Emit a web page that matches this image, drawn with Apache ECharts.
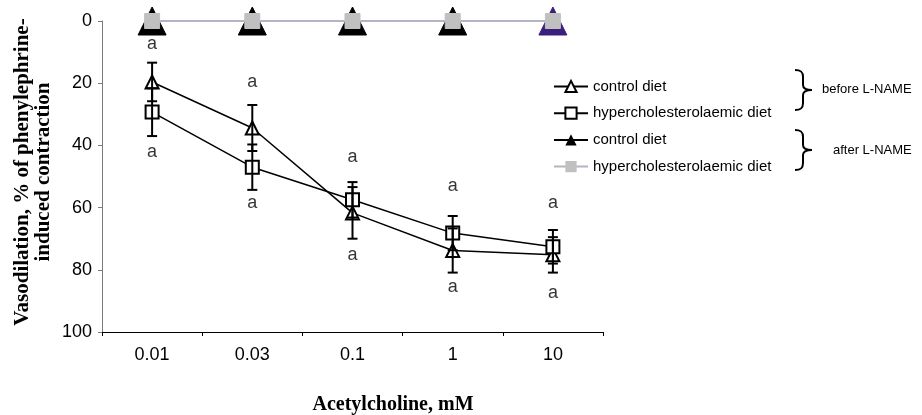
<!DOCTYPE html>
<html>
<head>
<meta charset="utf-8">
<script src="https://cdn.jsdelivr.net/npm/echarts@6/dist/echarts.min.js"></script>
<style>
html,body{margin:0;padding:0;background:#fff;}
#chart{width:922px;height:415px;}
</style>
</head>
<body>
<div id="chart"></div>
<script>
// ---- data ----
var categories = ['0.01', '0.03', '0.1', '1', '10'];
var ctrlBefore = [19.6, 34.4, 61.7, 73.8, 75.2];
var ctrlBeforeErr = [6.2, 7.4, 8.3, 7.1, 5.7];
var hyperBefore = [29.3, 47.0, 57.5, 68.2, 72.6];
var hyperBeforeErr = [7.7, 7.3, 5.7, 5.5, 5.4];
var ctrlAfter = [0, 0, 0, 0, 0];
var hyperAfter = [0, 0, 0, 0, 0];
var letterAbove = [7.4, 19.6, 43.7, 53.0, 58.5];
var letterBelow = [42.1, 58.5, 75.2, 85.5, 87.5];
var letterText = ['a', 'a', 'a', 'a', 'a'];
var yTicks = [0, 20, 40, 60, 80, 100];
var legendNames = ['control diet', 'hypercholesterolaemic diet', 'control diet', 'hypercholesterolaemic diet'];
var seriesKeys = ['ctrlBefore', 'hyperBefore', 'ctrlAfter', 'hyperAfter'];

var chart = echarts.init(document.getElementById('chart'));

function errData(mean, err) {
  return mean.map(function (m, i) { return [i, m - err[i], m + err[i]]; });
}
function errSeries(mean, err) {
  return {
    type: 'custom',
    z: 5,
    silent: true,
    data: errData(mean, err),
    renderItem: function (params, api) {
      var x = api.value(0);
      var lo = api.coord([x, api.value(1)]);
      var hi = api.coord([x, api.value(2)]);
      var hw = 5;
      var st = { stroke: '#000', lineWidth: 2 };
      return {
        type: 'group',
        children: [
          { type: 'line', shape: { x1: lo[0], y1: lo[1], x2: hi[0], y2: hi[1] }, style: st },
          { type: 'line', shape: { x1: lo[0] - hw, y1: lo[1], x2: lo[0] + hw, y2: lo[1] }, style: st },
          { type: 'line', shape: { x1: hi[0] - hw, y1: hi[1], x2: hi[0] + hw, y2: hi[1] }, style: st }
        ]
      };
    }
  };
}
function letterSeries(vals) {
  return {
    type: 'scatter',
    symbol: 'circle',
    symbolSize: 1,
    silent: true,
    z: 6,
    itemStyle: { color: 'transparent' },
    data: vals.map(function (v, i) { return [i, v]; }),
    label: {
      show: true, position: 'inside',
      formatter: function (p) { return letterText[p.dataIndex]; },
      color: '#000', fontSize: 18, fontFamily: 'Liberation Sans, Arial, sans-serif'
    }
  };
}
function brace(x0, top, bottom) {
  var mid = (top + bottom) / 2;
  var xs = x0 + 8, xt = x0 + 17;
  var st = { stroke: '#000', lineWidth: 2, fill: null };
  return [
    { type: 'bezierCurve', shape: { x1: x0, y1: top, cpx1: x0 + 6, cpy1: top, cpx2: xs, cpy2: top + 2, x2: xs, y2: top + 7 }, style: st },
    { type: 'line', shape: { x1: xs, y1: top + 7, x2: xs, y2: mid - 5 }, style: st },
    { type: 'bezierCurve', shape: { x1: xs, y1: mid - 5, cpx1: xs, cpy1: mid - 1, cpx2: xs + 3, cpy2: mid, x2: xt, y2: mid }, style: st },
    { type: 'bezierCurve', shape: { x1: xt, y1: mid, cpx1: xs + 3, cpy1: mid, cpx2: xs, cpy2: mid + 1, x2: xs, y2: mid + 5 }, style: st },
    { type: 'line', shape: { x1: xs, y1: mid + 5, x2: xs, y2: bottom - 7 }, style: st },
    { type: 'bezierCurve', shape: { x1: xs, y1: bottom - 7, cpx1: xs, cpy1: bottom - 2, cpx2: x0 + 6, cpy2: bottom, x2: x0, y2: bottom }, style: st }
  ];
}

var ctrlAfterData = ctrlAfter.map(function (v, i) {
  if (i === ctrlAfter.length - 1) return { value: v, itemStyle: { color: '#3b1f7c', borderColor: '#3b1f7c' } };
  return v;
});

var graphics = [
  {
    type: 'text', x: 33, y: 172, rotation: Math.PI / 2,
    style: {
      text: 'Vasodilation, % of phenylephrine-\ninduced contraction',
      font: 'bold 21px "Liberation Serif", "Times New Roman", serif',
      fill: '#000', textAlign: 'center', textVerticalAlign: 'middle', lineHeight: 21
    }
  },
  {
    type: 'text', x: 393, y: 405,
    style: {
      text: 'Acetylcholine, mM',
      font: 'bold 20px "Liberation Serif", "Times New Roman", serif',
      fill: '#000', textAlign: 'center', textVerticalAlign: 'middle'
    }
  },
  {
    type: 'text', x: 822, y: 89,
    style: { text: 'before L-NAME', font: '13px "Liberation Sans", Arial, sans-serif', fill: '#000', textVerticalAlign: 'middle' }
  },
  {
    type: 'text', x: 833, y: 150,
    style: { text: 'after L-NAME', font: '13px "Liberation Sans", Arial, sans-serif', fill: '#000', textVerticalAlign: 'middle' }
  }
].concat(brace(795, 70, 110)).concat(brace(795, 130, 170));

var option = {
  backgroundColor: '#fff',
  animation: false,
  grid: { left: 102, top: 21, width: 501, height: 311, containLabel: false },
  legend: {
    data: seriesKeys,
    orient: 'vertical',
    left: 553, top: 79, padding: 0,
    itemWidth: 34, itemHeight: 14, itemGap: 11.7,
    formatter: function (n) { return legendNames[seriesKeys.indexOf(n)]; },
    textStyle: { fontSize: 15, color: '#000', fontFamily: 'Liberation Sans, Arial, sans-serif' },
    selectedMode: false
  },
  xAxis: [{
    type: 'category',
    data: categories,
    position: 'bottom',
    boundaryGap: true,
    axisLine: { onZero: false, lineStyle: { color: '#000', width: 1 } },
    axisTick: { alignWithLabel: true, length: 4, lineStyle: { color: '#000' } },
    axisLabel: { color: '#000', fontSize: 18, margin: 14, fontFamily: 'Liberation Sans, Arial, sans-serif' },
    splitLine: { show: false }
  }, {
    type: 'category',
    data: categories,
    position: 'bottom',
    boundaryGap: true,
    axisLine: { show: false, onZero: false },
    axisTick: { show: true, length: 4, lineStyle: { color: '#000' } },
    axisLabel: { show: false },
    splitLine: { show: false }
  }],
  yAxis: {
    type: 'value',
    inverse: true,
    min: yTicks[0], max: yTicks[yTicks.length - 1], interval: 20,
    axisLine: { show: true, onZero: false, lineStyle: { color: '#7a7a7a', width: 1 } },
    axisTick: { show: true, length: 4, lineStyle: { color: '#7a7a7a' } },
    axisLabel: { color: '#000', fontSize: 18, margin: 10, fontFamily: 'Liberation Sans, Arial, sans-serif' },
    splitLine: { show: false }
  },
  graphic: graphics,
  series: [
    {
      name: 'ctrlAfter', type: 'line', data: ctrlAfterData,
      symbol: 'triangle', symbolSize: [28, 28],
      lineStyle: { color: '#000', width: 2 },
      itemStyle: { color: '#000', borderColor: '#000' },
      z: 2
    },
    {
      name: 'hyperAfter', type: 'line', data: hyperAfter,
      symbol: 'rect', symbolSize: 15,
      lineStyle: { color: '#b4b4c4', width: 2 },
      itemStyle: { color: '#c0c0c0', borderColor: '#c0c0c0' },
      z: 3
    },
    {
      name: 'ctrlBefore', type: 'line', data: ctrlBefore,
      symbol: 'triangle', symbolSize: 13,
      lineStyle: { color: '#000', width: 1.5 },
      itemStyle: { color: '#fff', borderColor: '#000', borderWidth: 2 },
      z: 4
    },
    {
      name: 'hyperBefore', type: 'line', data: hyperBefore,
      symbol: 'rect', symbolSize: 13,
      lineStyle: { color: '#000', width: 1.5 },
      itemStyle: { color: '#fff', borderColor: '#000', borderWidth: 2 },
      z: 4
    },
    errSeries(ctrlBefore, ctrlBeforeErr),
    errSeries(hyperBefore, hyperBeforeErr),
    letterSeries(letterAbove),
    letterSeries(letterBelow)
  ]
};
chart.setOption(option);
</script>
</body>
</html>
